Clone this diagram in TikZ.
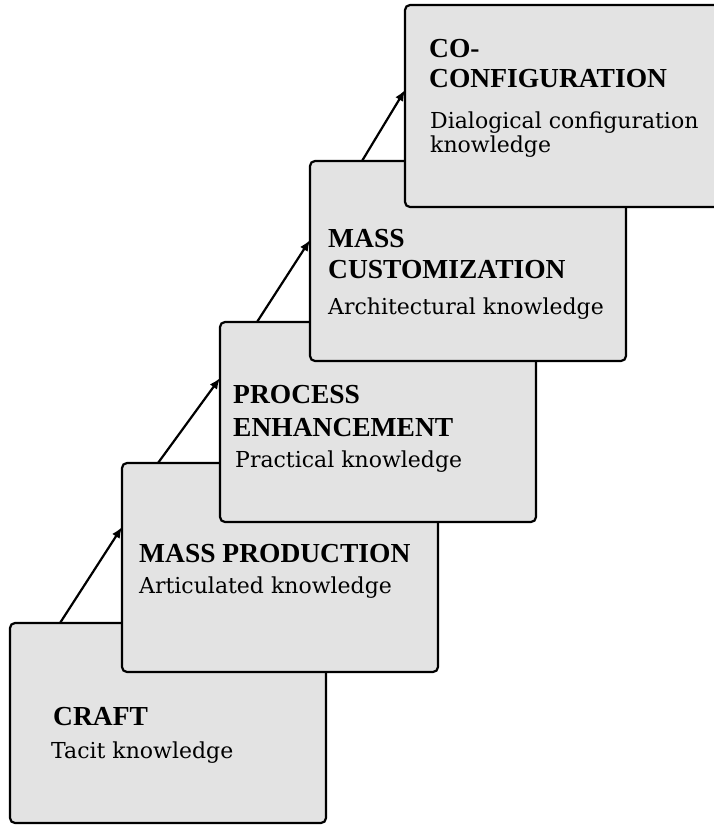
\documentclass[tikz,border=0pt]{standalone}
\usepackage{fontspec}
\setmainfont{DejaVu Serif}
\newfontfamily\titlefont{Liberation Serif}
\usetikzlibrary{arrows.meta}
\definecolor{boxgrey}{RGB}{227,227,227}
\tikzset{
  stagebox/.style={draw=black, line width=2.2pt, fill=boxgrey, rounded corners=5pt,
    minimum width=316pt, minimum height=200pt, anchor=north west, inner sep=0pt, outer sep=0pt},
  titletext/.style={anchor=base west, inner sep=0pt, font=\titlefont\bfseries\fontsize{27.5}{31}\selectfont},
  bodytext/.style={anchor=base west, inner sep=0pt, font=\fontsize{22}{24}\selectfont},
  stagearrow/.style={draw=black, line width=2.2pt, -{Latex[length=11pt,width=9pt]}}
}
\begin{document}
\begin{tikzpicture}[x=1pt, y=-1pt]
\clip (0,0) rectangle (714,825);
\fill[white] (0,0) rectangle (714,825);

\node[stagebox] (b1) at (10,623) {};
\node[titletext] (t1) at (53,725) {CRAFT};
\node[bodytext] (k1) at (51,758) {Tacit knowledge};

\node[stagebox, minimum height=209pt] (b2) at (122,463) {};
\node[titletext] (t2) at (139,562) {MASS PRODUCTION};
\node[bodytext] (k2) at (139,593) {Articulated knowledge};

\node[stagebox] (b3) at (220,322) {};
\node[titletext] (t3a) at (233,403) {PROCESS};
\node[titletext] (t3b) at (233,436) {ENHANCEMENT};
\node[bodytext] (k3) at (235,467) {Practical knowledge};

\node[stagebox] (b4) at (310,161) {};
\node[titletext] (t4a) at (328,247) {MASS};
\node[titletext] (t4b) at (328,278) {CUSTOMIZATION};
\node[bodytext] (k4) at (328,314) {Architectural knowledge};

\node[stagebox, minimum height=202pt] (b5) at (405,5) {};
\node[titletext] (t5a) at (429,57) {CO-};
\node[titletext] (t5b) at (429,87) {CONFIGURATION};
\node[bodytext] (k5a) at (430,128) {Dialogical configuration};
\node[bodytext] (k5b) at (430,152) {knowledge};

\draw[stagearrow] ([xshift=50pt]b1.north west) -- ([yshift=-64pt]b2.north west);
\draw[stagearrow] ([xshift=36pt]b2.north west) -- ([yshift=-56pt]b3.north west);
\draw[stagearrow] ([xshift=37pt]b3.north west) -- ([yshift=-79pt]b4.north west);
\draw[stagearrow] ([xshift=52pt]b4.north west) -- ([yshift=-85pt]b5.north west);
\end{tikzpicture}
\end{document}
